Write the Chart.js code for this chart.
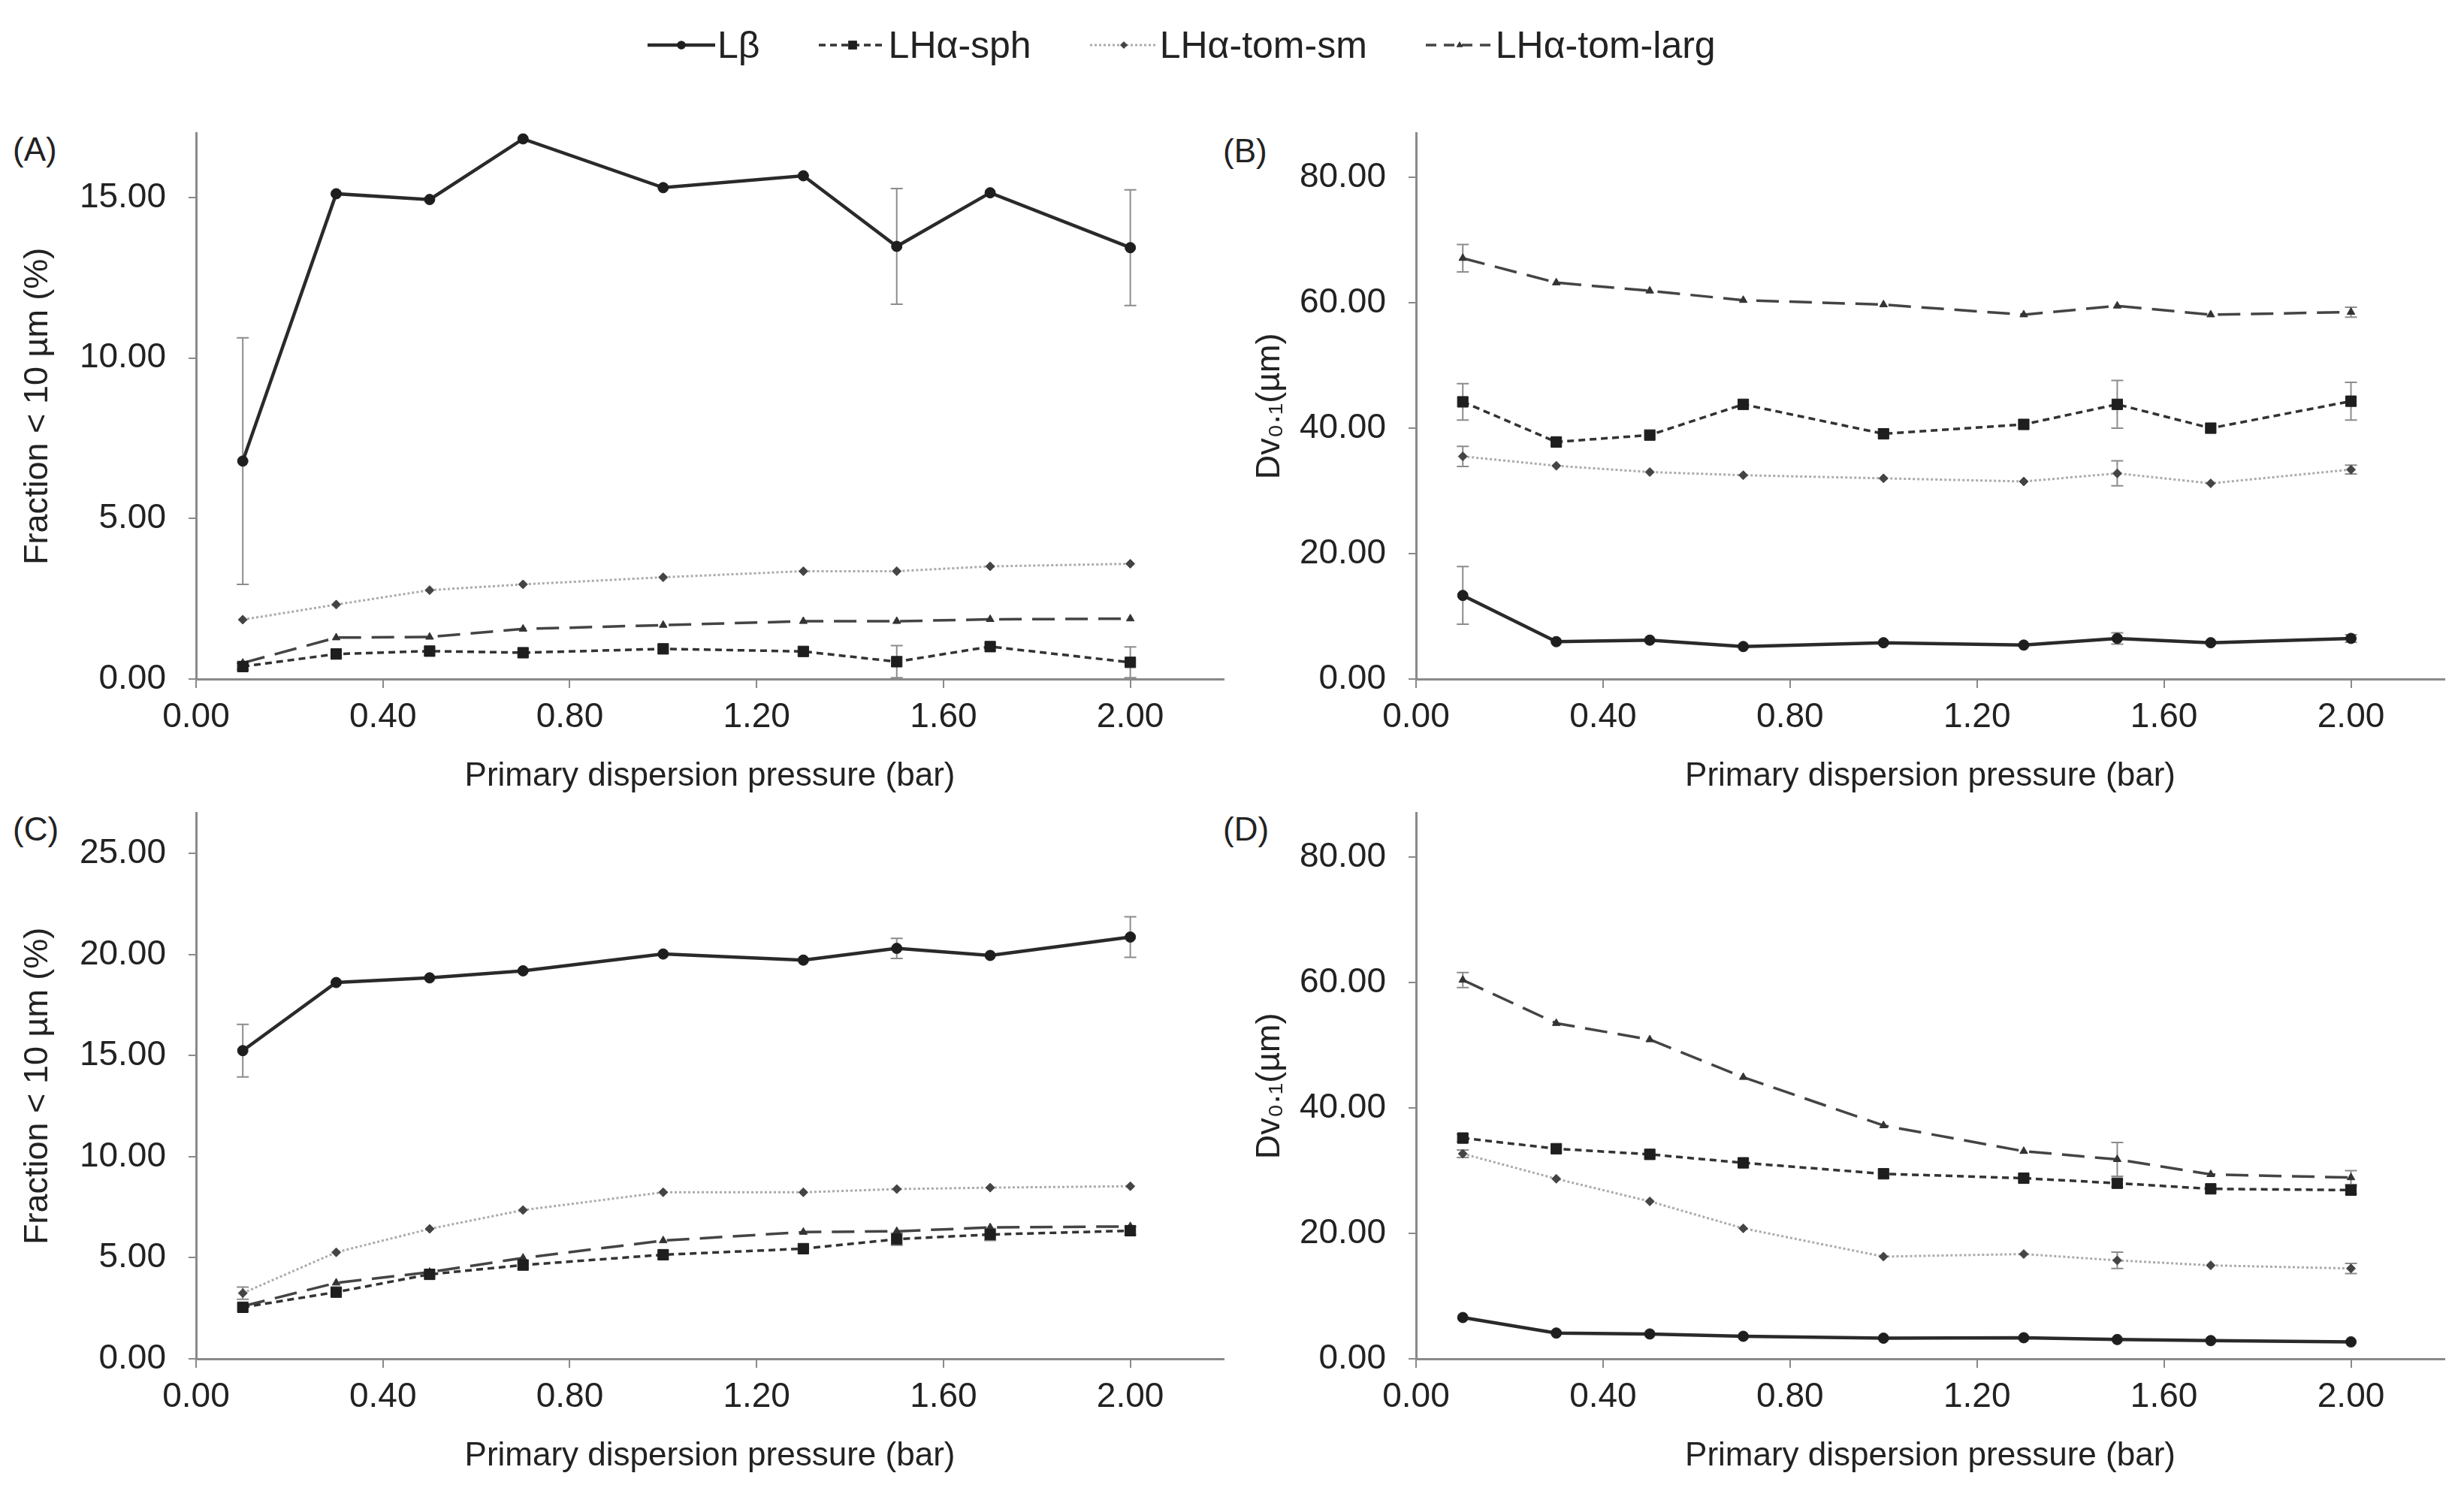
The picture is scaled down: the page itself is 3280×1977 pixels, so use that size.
<!DOCTYPE html>
<html>
<head>
<meta charset="utf-8">
<script src="https://cdn.jsdelivr.net/npm/chart.js@4.4.1/dist/chart.umd.min.js"></script>
<style>
  body { margin: 0; background: #fff; width: 3280px; height: 1977px; position: relative; overflow: hidden;
         font-family: "Liberation Sans", Arial, sans-serif; color: #222; }
  canvas { position: absolute; }
  .tag { position: absolute; font-size: 44px; line-height: 52px; }
  #legend { position: absolute; left: 862px; top: 30px; height: 60px; display: flex; gap: 78px; align-items: center; font-size: 50px; }
  .item { display: flex; align-items: center; gap: 3px; }
</style>
</head>
<body>
<div id="legend"></div>
<div class="tag" style="left:17px; top:173px;">(A)</div>
<div class="tag" style="left:1628px; top:175px;">(B)</div>
<div class="tag" style="left:17px; top:1078px;">(C)</div>
<div class="tag" style="left:1628px; top:1078px;">(D)</div>
<canvas id="chartA" width="1640" height="952" style="left:0; top:120px;"></canvas>
<canvas id="chartB" width="1640" height="952" style="left:1640px; top:120px;"></canvas>
<canvas id="chartC" width="1640" height="952" style="left:0; top:1025px;"></canvas>
<canvas id="chartD" width="1640" height="952" style="left:1640px; top:1025px;"></canvas>
<script>
// primary dispersion pressure (bar)
const pressure = [0.1, 0.3, 0.5, 0.7, 1.0, 1.3, 1.5, 1.7, 2.0];
const seriesNames = ['Lβ', 'LHα-sph', 'LHα-tom-sm', 'LHα-tom-larg'];
const xTicks = [0, 0.4, 0.8, 1.2, 1.6, 2.0];

// (A) fraction < 10 µm
const lbA = [6.79, 15.12, 14.94, 16.83, 15.31, 15.68, 13.48, 15.15, 13.44];
const lbAErr = [3.84, 0, 0, 0, 0, 0, 1.8, 0, 1.8];
const sphA = [0.39, 0.78, 0.87, 0.82, 0.94, 0.86, 0.54, 1.01, 0.52];
const sphAErr = [0.1, 0, 0, 0, 0, 0, 0.5, 0, 0.48];
const smA = [1.85, 2.32, 2.77, 2.95, 3.17, 3.36, 3.36, 3.51, 3.59];
const smAErr = [0, 0, 0, 0, 0, 0, 0, 0, 0];
const largA = [0.5, 1.29, 1.31, 1.56, 1.68, 1.80, 1.80, 1.86, 1.88];
const largAErr = [0, 0, 0, 0, 0, 0, 0, 0, 0];

// (B) Dv0.1
const lbB = [13.33, 5.96, 6.2, 5.18, 5.79, 5.41, 6.48, 5.79, 6.48];
const lbBErr = [4.6, 0, 0, 0, 0, 0, 0.9, 0, 0.6];
const sphB = [44.2, 37.8, 38.9, 43.8, 39.1, 40.6, 43.8, 40.0, 44.3];
const sphBErr = [2.9, 0, 0, 0, 0, 0, 3.8, 0, 3.0];
const smB = [35.5, 34.0, 33.0, 32.5, 32.0, 31.5, 32.8, 31.2, 33.4];
const smBErr = [1.6, 0, 0, 0, 0, 0, 2.0, 0, 0.7];
const largB = [67.1, 63.2, 61.9, 60.4, 59.7, 58.1, 59.5, 58.1, 58.5];
const largBErr = [2.2, 0, 0, 0, 0, 0, 0, 0, 0.8];

// (C) fraction < 10 µm
const lbC = [15.25, 18.62, 18.85, 19.20, 20.03, 19.73, 20.31, 19.96, 20.87];
const lbCErr = [1.3, 0, 0, 0, 0, 0, 0.5, 0, 1.0];
const sphC = [2.55, 3.30, 4.18, 4.64, 5.15, 5.45, 5.92, 6.15, 6.34];
const sphCErr = [0, 0, 0, 0, 0, 0, 0.3, 0.3, 0.2];
const smC = [3.25, 5.27, 6.43, 7.36, 8.24, 8.24, 8.40, 8.47, 8.54];
const smCErr = [0.3, 0, 0, 0, 0, 0, 0, 0, 0];
const largC = [2.60, 3.76, 4.29, 4.99, 5.85, 6.27, 6.31, 6.50, 6.55];
const largCErr = [0, 0, 0, 0, 0, 0, 0, 0, 0];

// (D) Dv0.1
const lbD = [6.58, 4.11, 3.96, 3.59, 3.29, 3.36, 3.07, 2.9, 2.7];
const lbDErr = [0, 0, 0, 0, 0, 0, 0, 0, 0];
const sphD = [35.2, 33.5, 32.6, 31.25, 29.5, 28.8, 28.0, 27.1, 26.9];
const sphDErr = [0.6, 0, 0, 0, 0, 0, 0.6, 0, 0.6];
const smD = [32.7, 28.7, 25.1, 20.8, 16.3, 16.7, 15.7, 14.9, 14.4];
const smDErr = [0.6, 0, 0, 0, 0, 0, 1.3, 0, 0.8];
const largD = [60.4, 53.5, 50.9, 44.9, 37.2, 33.1, 31.8, 29.4, 28.9];
const largDErr = [1.2, 0, 0, 0, 0, 0, 2.7, 0, 1.1];

const FONT = '"Liberation Sans", Arial, sans-serif';
const styles = [
  { borderColor: '#2a2a2a', borderWidth: 4.5, borderDash: [], pointStyle: 'circle', pointRadius: 7, pointBackgroundColor: '#1e1e1e' },
  { borderColor: '#333', borderWidth: 3.5, borderDash: [9, 6], pointStyle: 'rect', pointRadius: 10, pointBackgroundColor: '#1e1e1e' },
  { borderColor: '#ababab', borderWidth: 3, borderDash: [3, 3], pointStyle: 'rectRot', pointRadius: 6, pointBackgroundColor: '#444' },
  { borderColor: '#444', borderWidth: 3.5, borderDash: [30, 14], pointStyle: 'triangle', pointRadius: 6, pointBackgroundColor: '#333' }
];

// vertical error bars, drawn through the chart's own scales
const errorBars = {
  id: 'errorBars',
  beforeDatasetsDraw(chart) {
    const { ctx, scales: { x, y } } = chart;
    ctx.save();
    ctx.strokeStyle = '#8c8c8c';
    ctx.lineWidth = 2;
    chart.data.datasets.forEach(ds => {
      (ds.errors || []).forEach((e, i) => {
        if (!e) return;
        const px = x.getPixelForValue(ds.data[i].x);
        const hi = y.getPixelForValue(ds.data[i].y + e);
        const lo = y.getPixelForValue(ds.data[i].y - e);
        ctx.beginPath();
        ctx.moveTo(px, hi); ctx.lineTo(px, lo);
        ctx.moveTo(px - 8, hi); ctx.lineTo(px + 8, hi);
        ctx.moveTo(px - 8, lo); ctx.lineTo(px + 8, lo);
        ctx.stroke();
      });
    });
    ctx.restore();
  }
};

function makePanel(id, axisLeft, axisRight, yMax, yStep, yTitle, values, errors) {
  const canvas = document.getElementById(id);
  const datasets = values.map((vals, k) => Object.assign({
    label: seriesNames[k],
    data: pressure.map((p, i) => ({ x: p, y: vals[i] })),
    errors: errors[k],
    pointBorderColor: styles[k].pointBackgroundColor,
    pointBorderWidth: 1,
    tension: 0,
    fill: false
  }, styles[k]));

  const axisColor = '#8a8a8a';
  return new Chart(canvas, {
    type: 'line',
    data: { datasets },
    plugins: [errorBars],
    options: {
      responsive: false,
      animation: false,
      devicePixelRatio: 1,
      layout: { padding: { left: 0, top: 57, right: canvas.width - axisRight, bottom: 8 } },
      plugins: { legend: { display: false }, tooltip: { enabled: false } },
      scales: {
        x: {
          type: 'linear', min: 0, max: 2.2,
          afterFit: s => { s.height = 160; },
          border: { display: true, color: axisColor, width: 3 },
          grid: { drawOnChartArea: false, drawTicks: true, tickLength: 12, color: axisColor, lineWidth: 2 },
          ticks: { stepSize: 0.4, includeBounds: false, padding: 12, color: '#222',
                   font: { family: FONT, size: 46 }, maxRotation: 0,
                   callback: v => v.toFixed(2) },
          title: { display: true, text: 'Primary dispersion pressure (bar)', color: '#222',
                   font: { family: FONT, size: 44 }, padding: { top: 0, bottom: 4 } }
        },
        y: {
          min: 0, max: yMax,
          afterFit: s => { s.width = axisLeft; },
          border: { display: true, color: axisColor, width: 3 },
          grid: { drawOnChartArea: false, drawTicks: true, tickLength: 10, color: axisColor, lineWidth: 2 },
          ticks: { stepSize: yStep, includeBounds: false, padding: 30, color: '#222',
                   font: { family: FONT, size: 46 }, callback: v => v.toFixed(2) },
          title: { display: true, text: yTitle, color: '#222',
                   font: { family: FONT, size: 45 }, padding: { top: 24, bottom: 0 } }
        }
      }
    }
  });
}

const fracTitle = 'Fraction < 10 µm (%)';
const dvTitle = 'Dv₀.₁(µm)';
makePanel('chartA', 261, 1631, 17, 5, fracTitle, [lbA, sphA, smA, largA], [lbAErr, sphAErr, smAErr, largAErr]);
makePanel('chartB', 245, 1614, 87, 20, dvTitle, [lbB, sphB, smB, largB], [lbBErr, sphBErr, smBErr, largBErr]);
makePanel('chartC', 261, 1631, 27, 5, fracTitle, [lbC, sphC, smC, largC], [lbCErr, sphCErr, smCErr, largCErr]);
makePanel('chartD', 245, 1614, 87, 20, dvTitle, [lbD, sphD, smD, largD], [lbDErr, sphDErr, smDErr, largDErr]);

// shared legend at the top
const legend = document.getElementById('legend');
seriesNames.forEach((name, k) => {
  const st = styles[k];
  const item = document.createElement('div');
  item.className = 'item';
  const c = document.createElement('canvas');
  c.width = 90; c.height = 30;
  c.style.position = 'static';
  const g = c.getContext('2d');
  g.strokeStyle = st.borderColor; g.lineWidth = st.borderWidth;
  g.setLineDash(k === 3 ? [14, 10] : st.borderDash);
  g.beginPath(); g.moveTo(0, 15); g.lineTo(90, 15); g.stroke();
  g.setLineDash([]);
  g.fillStyle = st.pointBackgroundColor;
  Chart.helpers.drawPoint(g, { pointStyle: st.pointStyle, radius: st.pointRadius * 0.8, rotation: 0, borderWidth: 0 }, 45, 15);
  g.fill();
  const t = document.createElement('span');
  t.textContent = name;
  item.appendChild(c); item.appendChild(t);
  legend.appendChild(item);
});
</script>
</body>
</html>
